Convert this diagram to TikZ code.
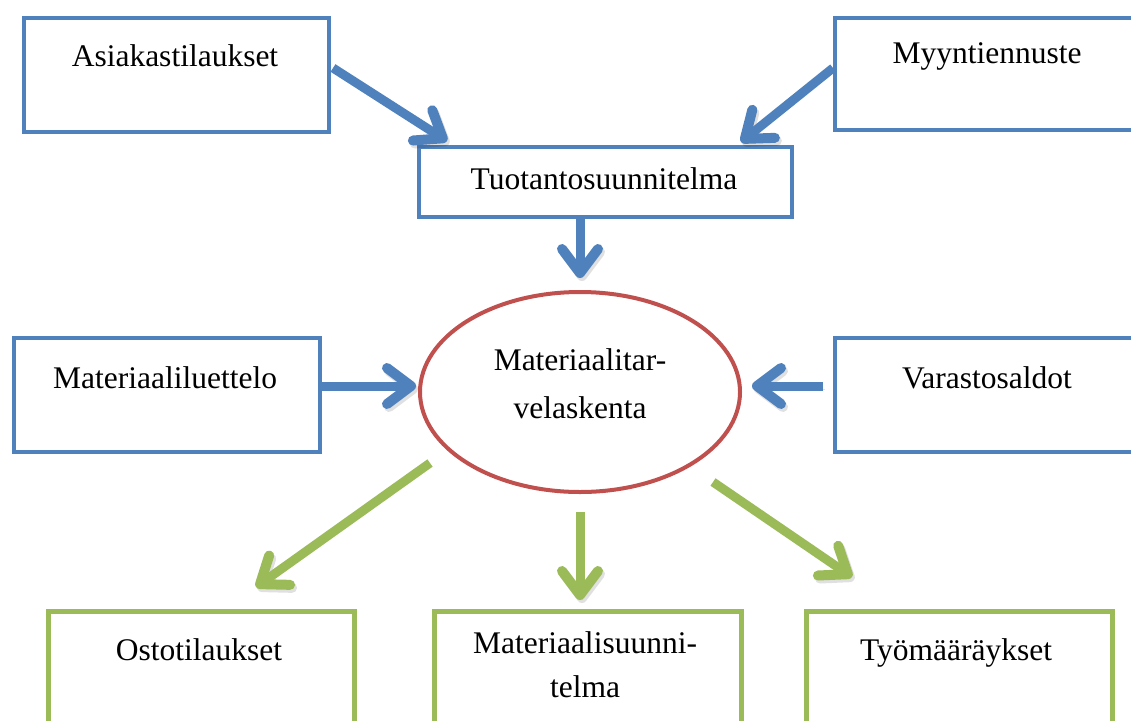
\documentclass[tikz,border=0pt]{standalone}
\usepackage{fontspec}
\setmainfont{Liberation Serif}
\usetikzlibrary{arrows.meta}
\definecolor{boxblue}{RGB}{79,129,189}
\definecolor{boxgreen}{RGB}{155,187,89}
\definecolor{ellred}{RGB}{192,80,77}
\begin{document}
\begin{tikzpicture}[x=1pt,y=-1pt,
  bluebox/.style={draw=boxblue, line width=4pt, anchor=north west, inner sep=0pt},
  greenbox/.style={draw=boxgreen, line width=4.5pt, anchor=north west, inner sep=0pt},
  lbl/.style={font=\fontsize{31.5}{38}\selectfont, anchor=base, inner sep=0pt},
  flow/.style={line width=9pt,
    -{Straight Barb[length=24pt,width=36pt,line width=10pt,round]},
    preaction={draw=black, opacity=0.12,
      transform canvas={xshift=2pt,yshift=-3pt}}},
  blueflow/.style={flow, draw=boxblue},
  greenflow/.style={flow, draw=boxgreen}]
\useasboundingbox (0,0) rectangle (1131,720);
\clip (0,0) rectangle (1131,720);

% input boxes
\node[bluebox, minimum width=305pt, minimum height=114pt] (asiakas) at (22,16) {};
\node[lbl] (asiakasT) at (175,66) {Asiakastilaukset};
\node[bluebox, minimum width=310pt, minimum height=112pt] (myynti) at (833,16) {};
\node[lbl] (myyntiT) at (987,63) {Myyntiennuste};
\node[bluebox, minimum width=373pt, minimum height=70pt] (tuot) at (417,145) {};
\node[lbl] (tuotT) at (604,189) {Tuotantosuunnitelma};
\node[bluebox, minimum width=306pt, minimum height=114pt] (luettelo) at (12,336) {};
\node[lbl] (luetteloT) at (165,388) {Materiaaliluettelo};
\node[bluebox, minimum width=310pt, minimum height=114pt] (varasto) at (833,336) {};
\node[lbl] (varastoT) at (987,388) {Varastosaldot};

% central calculation
\draw[ellred, line width=4pt] (580,392) ellipse [x radius=160, y radius=100];
\node[inner sep=0pt] (mrp) at (580,392) {};
\node[lbl] (mrpT1) at (580,370) {Materiaalitar-};
\node[lbl] (mrpT2) at (580,418) {velaskenta};

% output boxes
\node[greenbox, minimum width=306pt, minimum height=140pt] (osto) at (46,609) {};
\node[lbl] (ostoT) at (199,660) {Ostotilaukset};
\node[greenbox, minimum width=307pt, minimum height=140pt] (matsuun) at (432,609) {};
\node[lbl] (matsuunT1) at (585,653) {Materiaalisuunni-};
\node[lbl] (matsuunT2) at (585,697) {telma};
\node[greenbox, minimum width=306pt, minimum height=140pt] (tyo) at (804,609) {};
\node[lbl] (tyoT) at (956,660) {Työmääräykset};

% connector end points
\coordinate (a1s) at (333,68);  \coordinate (a1e) at (447,141);
\coordinate (a2s) at (833,68);  \coordinate (a2e) at (741,142);
\coordinate (a3s) at (580,217); \coordinate (a3e) at (580,278);
\coordinate (a4s) at (320,386); \coordinate (a4e) at (416,386);
\coordinate (a5s) at (823,386); \coordinate (a5e) at (752,386);
\coordinate (g1s) at (430,463); \coordinate (g1e) at (256,587);
\coordinate (g2s) at (580,512); \coordinate (g2e) at (580,600);
\coordinate (g3s) at (713,482); \coordinate (g3e) at (852,577);

\draw[blueflow] (a1s) -- (a1e);
\draw[blueflow] (a2s) -- (a2e);
\draw[blueflow] (a3s) -- (a3e);
\draw[blueflow] (a4s) -- (a4e);
\draw[blueflow] (a5s) -- (a5e);
\draw[greenflow] (g1s) -- (g1e);
\draw[greenflow] (g2s) -- (g2e);
\draw[greenflow] (g3s) -- (g3e);
\end{tikzpicture}
\end{document}
